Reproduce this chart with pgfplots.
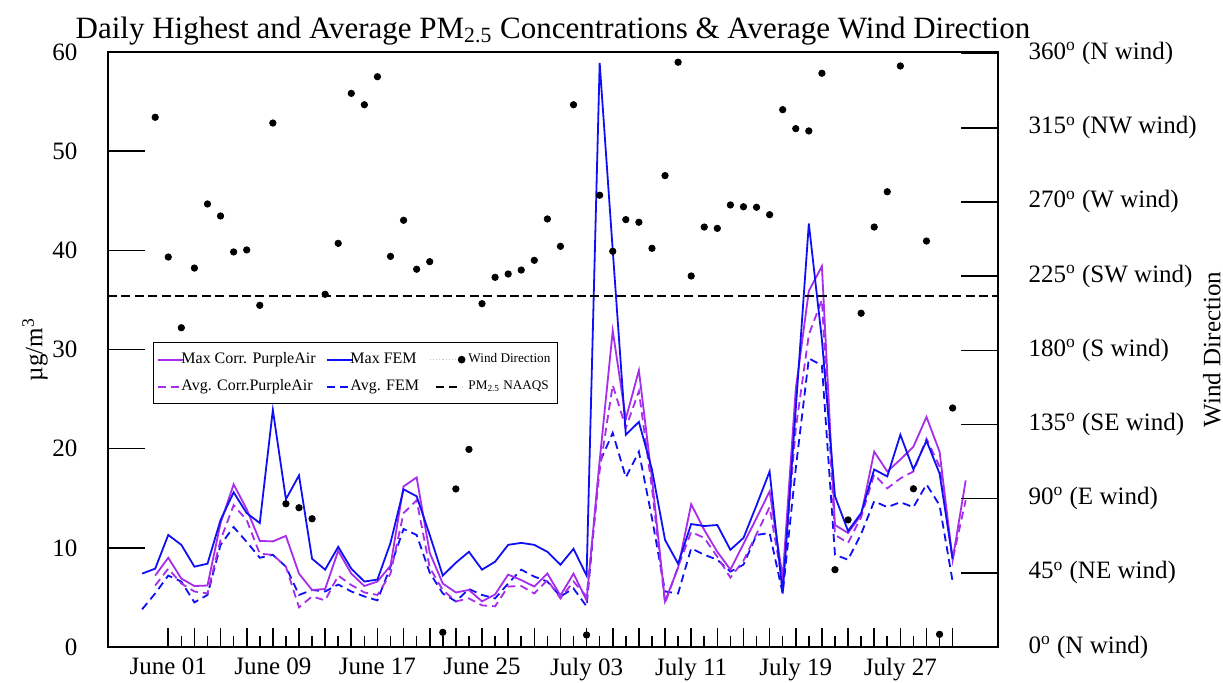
\documentclass[border=0pt]{standalone}
\usepackage{fontspec}
\setmainfont{Liberation Serif}
\usepackage{pgfplots}
\pgfplotsset{compat=1.18}
\usepackage{pgfplotstable}

\definecolor{pa}{RGB}{165,45,235}
\definecolor{fem}{RGB}{15,15,245}

\pgfplotstableread{
d mf af
-2 7.4 3.8
-1 7.9 5.4
0 11.3 7.2
1 10.3 6.6
2 8.1 4.5
3 8.4 5.25
4 12.8 10.3
5 15.6 12.1
6 13.5 10.6
7 12.5 9.0
8 23.9 9.3
9 14.9 8.1
10 17.3 5.25
11 8.9 5.75
12 7.8 5.6
13 10.1 6.3
14 7.9 5.6
15 6.6 5.1
16 6.8 4.7
17 10.5 8.1
18 15.9 11.9
19 15.2 11.3
20 11.3 7.5
21 7.2 5.4
22 8.5 4.6
23 9.6 5.85
24 7.8 5.25
25 8.6 4.9
26 10.3 6.4
27 10.5 7.8
28 10.3 7.1
29 9.6 6.6
30 8.3 5.1
31 9.9 5.9
32 7.2 4.1
33 58.9 18.6
34 40.0 21.6
35 21.4 17.1
36 22.7 19.7
37 17.9 13.0
38 10.8 5.6
39 8.4 5.4
40 12.4 9.95
41 12.2 9.3
42 12.3 8.8
43 9.8 7.6
44 11.0 8.3
45 14.3 11.3
46 17.7 11.5
47 5.4 5.4
48 24.0 18.0
49 42.7 29.1
50 31.0 28.4
51 15.2 9.3
52 11.7 8.8
53 13.5 11.4
54 17.9 14.7
55 17.2 14.1
56 21.4 14.6
57 17.9 14.1
58 20.8 16.4
59 17.5 14.3
60 8.9 6.6
}\femtable

\pgfplotstableread{
d mp ap
-1 7.2 6.2
0 9.0 7.9
1 6.9 6.4
2 6.15 5.6
3 6.2 5.4
4 12.5 10.8
5 16.4 14.3
6 13.9 12.8
7 10.7 9.4
8 10.65 9.3
9 11.2 8.1
10 7.4 4.0
11 5.75 5.1
12 5.85 4.7
13 9.7 7.2
14 7.4 6.25
15 6.15 5.5
16 6.6 5.25
17 8.2 7.4
18 16.2 13.5
19 17.1 14.8
20 9.5 8.0
21 6.4 5.75
22 5.5 4.6
23 5.75 4.9
24 4.6 4.2
25 5.3 4.1
26 7.3 6.1
27 6.75 6.15
28 6.1 5.4
29 7.4 6.75
30 5.2 4.9
31 7.4 6.6
32 4.7 5.1
33 18.8 17.8
34 31.9 26.4
35 23.0 22.1
36 27.9 25.8
37 17.0 16.0
38 4.6 4.4
39 8.0 8.1
40 14.4 11.6
41 11.8 11.0
42 9.6 9.1
43 7.8 7.0
44 10.4 8.7
45 13.0 11.4
46 15.7 14.1
47 7.0 6.4
48 26.0 22.0
49 35.9 31.5
50 38.4 35.0
51 12.3 11.3
52 11.5 10.5
53 13.3 13.1
54 19.7 17.4
55 17.7 16.0
56 18.9 17.0
57 20.2 17.7
58 23.2 21.0
59 19.7 18.2
60 8.8 8.8
61 16.8 14.8
}\patable

\pgfplotstableread{
d w
-1 321.4
0 236.6
1 193.7
2 229.9
3 268.8
4 261.5
5 239.7
6 240.9
7 207.3
8 317.9
9 86.9
10 84.5
11 77.8
12 214.0
13 244.9
14 335.9
15 329.0
16 346.0
17 237.0
18 258.9
19 229.2
20 233.8
21 8.9
22 95.9
23 119.9
24 208.3
25 224.3
26 226.3
27 228.7
28 234.6
29 259.7
30 243.1
31 329.0
32 7.3
33 274.1
34 240.1
35 259.3
36 257.7
37 241.9
38 286.0
39 354.8
40 225.1
41 254.8
42 254.0
43 268.2
44 267.1
45 266.8
46 262.3
47 326.0
48 314.5
49 313.1
50 348.1
51 46.9
52 77.1
53 202.5
54 254.8
55 276.2
56 352.5
57 96.0
58 246.3
59 7.7
60 145.0
}\windtable

\pgfplotsset{
  base/.style={
    width=445pt, height=297.5pt, scale only axis,
    at={(0pt,0pt)}, anchor=south west,
    xmin=-4.61, xmax=63.47,
    tick align=inside,
    tick style={black, line width=0.8pt},
    /pgf/number format/assume math mode=true,
    tick label style={font=\fontsize{12.5}{14}\selectfont},
  },
}

\begin{document}
\begin{tikzpicture}
\path[use as bounding box] (-54pt,-17.5pt) rectangle (557.5pt,323.5pt);

% main axis: data, x ticks, frame, legend, title
\begin{axis}[base,
  ymin=0, ymax=60,
  axis line style={line width=1pt},
  ytick=\empty,
  xtick={0,2,...,60},
  xticklabels={June 01,{},{},{},June 09,{},{},{},June 17,{},{},{},June 25,{},{},{},July 03,{},{},{},July 11,{},{},{},July 19,{},{},{},July 27,{},{}},
  minor xtick={1,3,...,59},
  xtick pos=bottom,
  major tick length=9.5pt, minor tick length=5.5pt,
  xticklabel style={yshift=-2pt},
  title={Daily Highest and Average PM\textsubscript{2.5} Concentrations \& Average Wind Direction},
  title style={font=\fontsize{15.5}{18}\selectfont, at={(axis description cs:0.5,1)}, anchor=base, yshift=1pt},
  legend columns=3,
  legend cell align=left,
  legend image code/.code={\draw[#1] (0pt,0pt) -- (13pt,0pt);},
  legend style={at={(axis description cs:0.0506,0.5126)}, anchor=north west,
    font=\fontsize{8}{9}\selectfont, draw=black, line width=0.6pt,
    inner xsep=1.5pt, inner ysep=3pt, row sep=2.5pt,
    /tikz/every odd column/.append style={column sep=-3.5pt},
    /tikz/every even column/.append style={column sep=3pt}},
]
\addlegendimage{pa, line width=0.9pt}
\addlegendentry{Max Corr. PurpleAir}
\addlegendimage{fem, line width=0.9pt}
\addlegendentry{Max FEM}
\addlegendimage{legend image code/.code={\draw[gray!45, densely dotted, line width=0.6pt] (0pt,0pt) -- (15pt,0pt); \fill[black] (16pt,0pt) circle (1.6pt);}}
\addlegendentry{\fontsize{6.6}{8}\selectfont\hspace{3pt}Wind Direction}
\addlegendimage{pa, line width=0.9pt, dash pattern=on 4pt off 2.5pt}
\addlegendentry{Avg. Corr.PurpleAir}
\addlegendimage{fem, line width=0.9pt, dash pattern=on 4pt off 2.5pt}
\addlegendentry{Avg. FEM}
\addlegendimage{legend image code/.code={\draw[black, line width=0.8pt, dash pattern=on 4pt off 2.5pt] (3pt,0pt) -- (16pt,0pt);}}
\addlegendentry{\fontsize{6.6}{8}\selectfont\hspace{3pt}PM\textsubscript{2.5} NAAQS}

\addplot[forget plot, fem, line width=0.9pt, dash pattern=on 4pt off 2.5pt] table[x=d, y=af] {\femtable};
\addplot[forget plot, pa, line width=0.9pt, dash pattern=on 4pt off 2.5pt] table[x=d, y=ap] {\patable};
\addplot[forget plot, pa, line width=0.9pt] table[x=d, y=mp] {\patable};
\addplot[forget plot, fem, line width=0.9pt] table[x=d, y=mf] {\femtable};
\addplot[forget plot, black, line width=0.8pt, dash pattern=on 4.5pt off 2.2pt] coordinates {(-4.61,35.4) (63.47,35.4)};
\end{axis}

% left y axis
\begin{axis}[base,
  ymin=0, ymax=60,
  axis x line=none, axis y line*=left,
  axis line style={line width=1pt, -},
  ytick={0,10,...,60},
  major tick length=18.5pt,
  yticklabel style={xshift=-11.8pt},
  ylabel={µg/m\textsuperscript{3}},
  every axis y label/.style={at={(axis description cs:-0.082,0.5)}, rotate=90, anchor=center, font=\fontsize{12.5}{14}\selectfont},
]
\end{axis}

% right y axis: wind direction
\begin{axis}[base,
  ymin=0, ymax=361,
  axis x line=none, axis y line*=right,
  axis line style={line width=1pt, -},
  ytick={0,45,...,360},
  yticklabels={0\textsuperscript{o} (N wind),45\textsuperscript{o} (NE wind),90\textsuperscript{o} (E wind),135\textsuperscript{o} (SE wind),180\textsuperscript{o} (S wind),225\textsuperscript{o} (SW wind),270\textsuperscript{o} (W wind),315\textsuperscript{o} (NW wind),360\textsuperscript{o} (N wind)},
  major tick length=18.5pt,
  yticklabel style={xshift=11.8pt},
  ylabel={Wind Direction},
  every axis y label/.style={at={(axis description cs:1.2404,0.5)}, rotate=90, anchor=center, font=\fontsize{12.5}{14}\selectfont},
]
\addplot[only marks, mark=*, mark size=1.6pt, black] table[x=d, y=w] {\windtable};
\end{axis}
\end{tikzpicture}
\end{document}
